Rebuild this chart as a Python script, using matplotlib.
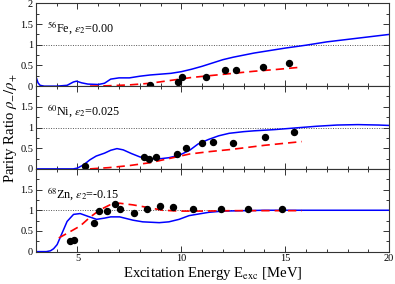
import matplotlib
matplotlib.use("Agg")
import matplotlib.pyplot as plt
from matplotlib.ticker import MultipleLocator

plt.rcParams['font.family'] = ['Liberation Serif', 'DejaVu Serif']
plt.rcParams['mathtext.fontset'] = 'stix'

# ---- data ----
fe_blue_x = [3.0, 3.1, 3.2, 3.4, 4.0, 4.5, 4.8, 4.95, 5.2, 5.5, 6.0, 6.3, 6.6, 7.0, 7.5, 8.0, 8.5, 9.0,
             9.5, 10.0, 10.5, 11.0, 11.5, 12.0, 12.5, 13.0, 13.5, 14.0, 15.0, 16.0, 17.0, 18.0, 19.0, 20.0]
fe_blue_y = [0.23, 0.08, 0.02, 0.0, 0.0, 0.02, 0.1, 0.12, 0.08, 0.05, 0.04, 0.07, 0.17, 0.2, 0.2, 0.24, 0.27, 0.29,
             0.31, 0.35, 0.41, 0.48, 0.56, 0.64, 0.7, 0.75, 0.8, 0.84, 0.92, 0.99, 1.07, 1.13, 1.19, 1.25]
fe_red_x = [5.6, 6.5, 7.5, 8.5, 9.5, 10.5, 11.5, 12.5, 13.5, 14.5, 15.8]
fe_red_y = [0.0, 0.01, 0.03, 0.07, 0.14, 0.21, 0.26, 0.31, 0.36, 0.40, 0.46]
fe_dot_x = [8.47, 9.84, 10.02, 11.19, 12.11, 12.64, 13.95, 15.19]
fe_dot_y = [0.03, 0.10, 0.22, 0.23, 0.40, 0.40, 0.47, 0.57]

ni_blue_x = [3.0, 4.0, 4.8, 5.0, 5.3, 5.6, 5.9, 6.3, 6.6, 6.9, 7.2, 7.6, 8.0, 8.4, 8.9, 9.4, 9.9, 10.4,
             10.8, 11.3, 11.8, 12.3, 13.0, 13.5, 14.5, 15.5, 16.5, 17.5, 18.5, 19.5, 20.0]
ni_blue_y = [0.0, 0.0, 0.0, 0.02, 0.1, 0.22, 0.31, 0.38, 0.45, 0.49, 0.46, 0.37, 0.29, 0.25, 0.24, 0.27, 0.33, 0.45,
             0.6, 0.71, 0.8, 0.86, 0.9, 0.92, 0.95, 0.99, 1.03, 1.06, 1.07, 1.06, 1.05]
ni_red_x = [5.6, 6.5, 7.5, 8.5, 9.5, 10.4, 11.4, 12.4, 13.2, 14.0, 15.0, 15.8]
ni_red_y = [0.0, 0.03, 0.08, 0.15, 0.26, 0.36, 0.42, 0.47, 0.52, 0.57, 0.62, 0.66]
ni_dot_x = [5.35, 8.22, 8.43, 8.78, 9.78, 10.24, 11.0, 11.52, 12.51, 14.02, 15.4]
ni_dot_y = [0.06, 0.28, 0.24, 0.28, 0.36, 0.51, 0.62, 0.66, 0.63, 0.77, 0.90]

zn_blue_x = [3.0, 3.5, 3.7, 3.85, 4.02, 4.26, 4.5, 4.81, 5.13, 5.52, 5.92, 6.3, 6.6, 7.03, 7.67, 8.14, 8.94,
             9.4, 9.89, 10.37, 10.84, 11.32, 12.0, 13.0, 14.0, 15.0, 16.0, 18.0, 20.0]
zn_blue_y = [0.0, 0.0, 0.02, 0.07, 0.17, 0.45, 0.73, 0.9, 0.92, 0.85, 0.78, 0.81, 0.84, 0.84, 0.76, 0.72, 0.70,
             0.72, 0.78, 0.87, 0.91, 0.95, 0.98, 0.99, 1.0, 1.0, 1.0, 1.0, 1.0]
zn_red_x = [4.1, 4.6, 5.13, 5.6, 6.08, 6.56, 7.03, 7.67, 8.47, 9.1, 9.9, 11.0, 12.5, 14.0, 15.8]
zn_red_y = [0.33, 0.47, 0.62, 0.83, 1.01, 1.13, 1.17, 1.13, 1.06, 1.0, 0.98, 0.98, 0.99, 0.99, 0.99]
zn_dot_x = [4.62, 4.81, 5.8, 6.03, 6.4, 6.81, 7.07, 7.7, 8.33, 8.95, 9.62, 10.58, 11.9, 13.19, 14.86]
zn_dot_y = [0.26, 0.29, 0.70, 0.98, 0.97, 1.15, 1.04, 0.94, 1.02, 1.11, 1.09, 1.02, 1.02, 1.02, 1.02]

labels = [r'$^{56}$Fe, $\varepsilon_2$=0.00', r'$^{60}$Ni, $\varepsilon_2$=0.025', r'$^{68}$Zn, $\varepsilon_2$=-0.15']
x_ticks = [5, 10, 15, 20]
y_ticks = [0, 0.5, 1, 1.5, 2]

panels = [
    (fe_blue_x, fe_blue_y, fe_red_x, fe_red_y, fe_dot_x, fe_dot_y),
    (ni_blue_x, ni_blue_y, ni_red_x, ni_red_y, ni_dot_x, ni_dot_y),
    (zn_blue_x, zn_blue_y, zn_red_x, zn_red_y, zn_dot_x, zn_dot_y),
]

fig, axes = plt.subplots(3, 1, sharex=True, figsize=(3.95, 2.84), dpi=100)
fig.subplots_adjust(left=0.091, right=0.985, top=0.988, bottom=0.114, hspace=0)

for i, (ax, (bx, by, rx, ry, dx, dy)) in enumerate(zip(axes, panels)):
    ax.axhline(1.0, color='#555555', lw=0.7, ls=(0, (1, 1.5)), zorder=1)
    ax.plot(bx, by, color='#0000ff', lw=1.1, zorder=2)
    ax.plot(rx, ry, color='#ff0000', lw=1.2, ls=(0, (5, 3)), zorder=3)
    ax.plot(dx, dy, 'o', color='black', ms=4.3, zorder=4)
    ax.set_xlim(3, 20)
    ax.set_ylim(0, 2)
    ax.set_xticks(x_ticks)
    ax.set_yticks(y_ticks)
    if i > 0:
        ax.set_yticklabels(['0', '0.5', '1', '1.5', ''])
    else:
        ax.set_yticklabels(['0', '0.5', '1', '1.5', '2'])
    ax.xaxis.set_minor_locator(MultipleLocator(1))
    ax.yaxis.set_minor_locator(MultipleLocator(0.25))
    ax.tick_params(which='both', direction='in', top=True, right=True, labelsize=7.5,
                   width=0.7, color='#333333', pad=2)
    ax.tick_params(which='major', length=4.5)
    ax.tick_params(which='minor', length=2.3)
    for s in ax.spines.values():
        s.set_linewidth(0.8)
        s.set_color('#333333')
    ax.text(0.03, 0.70, labels[i], transform=ax.transAxes, fontsize=8.7, va='center', ha='left')

axes[2].set_xlabel(r'Excitation Energy E$_{\rm exc}$ [MeV]', fontsize=10.6, labelpad=1)
fig.text(0.027, 0.55, r'Parity Ratio $\rho_{-}/\rho_{+}$', rotation=90, fontsize=10.6, va='center', ha='center')

fig.savefig('out.png', dpi=100)
